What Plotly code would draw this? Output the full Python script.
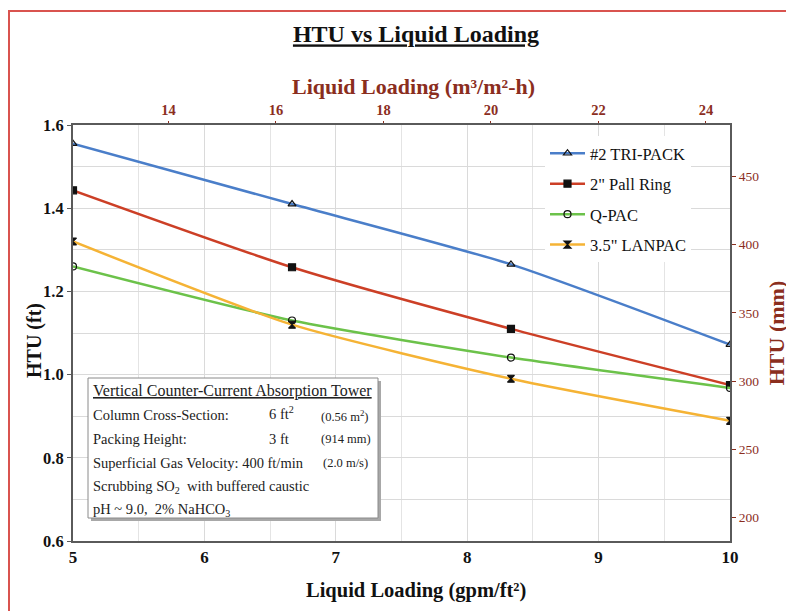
import plotly.graph_objects as go

# ---- data ----
liquid_gpm = [5.0, 6.667, 8.333, 10.0]
series_names = ['#2 TRI-PACK', '2" Pall Ring', 'Q-PAC', '3.5" LANPAC']
tri_pack = [1.555, 1.41, 1.265, 1.072]
pall_ring = [1.443, 1.258, 1.11, 0.975]
q_pac = [1.26, 1.13, 1.041, 0.968]
lanpac = [1.32, 1.12, 0.99, 0.889]
top_ticks = [14, 16, 18, 20, 22, 24]
right_ticks = [200, 250, 300, 350, 400, 450]

GPM_TO_M3 = 2.4448   # gpm/ft2 -> m3/m2-h
FT_TO_MM = 304.8

colors = ['#4A7EC9', '#CC3F26', '#6CC24A', '#F5B335']
symbols = ['triangle-up-open', 'square', 'circle-open', 'hourglass']
values = [tri_pack, pall_ring, q_pac, lanpac]

SERIF = 'Liberation Serif'
DARKRED = '#8B2E1E'

OFF = 8  # page offset of the plot div
W, H = 794, 611
PL, PR, PT, PB = 73, 730, 125, 541   # plot area in page coords
L, R, T, B = PL - OFF, W - (PR - OFF), PT - OFF, H - (PB - OFF)
PW, PH = W - L - R, H - T - B


def px(x):
    return (x - OFF - L) / PW


def py(y):
    return (H - B - (y - OFF)) / PH


fig = go.Figure()
for i, (name, vals) in enumerate(zip(series_names, values)):
    fig.add_trace(go.Scatter(
        x=liquid_gpm, y=vals, name=name, mode='lines+markers',
        line=dict(color=colors[i], width=2.5, shape='spline', smoothing=0.6),
        marker=dict(symbol=symbols[i], size=7, color='#111111',
                    line=dict(color='#111111', width=1.2)),
        legendgroup='g%d' % i,
    ))

# invisible trace to anchor the secondary axes
fig.add_trace(go.Scatter(
    x=[v * GPM_TO_M3 for v in liquid_gpm], y=[v * FT_TO_MM for v in tri_pack],
    xaxis='x2', yaxis='y2', mode='lines', line=dict(color='rgba(0,0,0,0)'),
    showlegend=False, hoverinfo='skip'))

axis_line = dict(showline=True, linecolor='#5A5A5A', linewidth=2)

fig.update_layout(
    width=W, height=H,
    margin=dict(l=L, r=R, t=T, b=B),
    paper_bgcolor='white', plot_bgcolor='white',
    font=dict(family=SERIF, color='#111111'),
    title=dict(text='<b><u>HTU vs Liquid Loading</u></b>', x=(416 - OFF) / W, xanchor='center',
               y=1 - (34 - OFF) / H, yanchor='middle', font=dict(size=24, family=SERIF, color='#111111')),
    xaxis=dict(range=[5, 10], dtick=1, tick0=5, showgrid=True, gridcolor='#DADADA', gridwidth=1,
               minor=dict(dtick=0.5, showgrid=True, gridcolor='#E4E4E4'),
               ticks='', tickfont=dict(size=17, family=SERIF, color='#111111', weight='bold'),
               zeroline=False, mirror=False, **axis_line),
    yaxis=dict(range=[0.6, 1.6], dtick=0.2, tick0=0.6, showgrid=True, gridcolor='#DADADA',
               minor=dict(dtick=0.1, showgrid=True, gridcolor='#DADADA'),
               ticks='outside', ticklen=4, tickcolor='#5A5A5A',
               tickformat='.1f', tickfont=dict(size=16.5, family=SERIF, color='#111111', weight='bold'),
               zeroline=False, **axis_line),
    xaxis2=dict(overlaying='x', side='top', anchor='y',
                range=[5 * GPM_TO_M3, 10 * GPM_TO_M3], tickvals=top_ticks,
                ticks='outside', ticklen=2, tickcolor=DARKRED, showgrid=False,
                tickfont=dict(size=14.5, family=SERIF, color=DARKRED, weight='bold'),
                zeroline=False, **axis_line),
    yaxis2=dict(overlaying='y', side='right', anchor='x',
                range=[0.6 * FT_TO_MM, 1.6 * FT_TO_MM], tickvals=right_ticks,
                ticks='outside', ticklen=4, tickcolor=DARKRED, showgrid=False,
                tickfont=dict(size=13.5, family=SERIF, color=DARKRED),
                title=dict(text='<b>HTU (mm)</b>', font=dict(size=22, family=SERIF, color=DARKRED), standoff=10),
                zeroline=False, **axis_line),
    legend=dict(x=px(545), y=py(136), xanchor='left', yanchor='top',
                bgcolor='white', borderwidth=0, tracegroupgap=6,
                font=dict(size=16.5, family=SERIF, color='#111111'), itemwidth=35),
    showlegend=True,
)

# info box with shadow
shapes = [
    dict(type='rect', xref='paper', yref='paper', x0=px(91), x1=px(381), y0=py(521), y1=py(381),
         fillcolor='#A8A8A8', line=dict(width=0), layer='above'),
    dict(type='rect', xref='paper', yref='paper', x0=px(88), x1=px(378), y0=py(518), y1=py(378),
         fillcolor='white', line=dict(color='#8A8A8A', width=1), layer='above'),
    # outer red frame
    dict(type='rect', xref='paper', yref='paper', x0=px(9), x1=px(900), y0=py(700), y1=py(11),
         fillcolor='rgba(0,0,0,0)', line=dict(color='#D9534F', width=2), layer='above'),
]
fig.update_layout(shapes=shapes)

anns = [
    # axis titles
    dict(xref='paper', yref='paper', x=px(413), y=py(86), xanchor='center', yanchor='middle',
         text='<b>Liquid Loading (m³/m²-h)</b>', showarrow=False,
         font=dict(size=22, family=SERIF, color=DARKRED)),
    dict(xref='paper', yref='paper', x=px(416), y=py(590), xanchor='center', yanchor='middle',
         text='<b>Liquid Loading (gpm/ft²)</b>', showarrow=False,
         font=dict(size=20.5, family=SERIF, color='#111111')),
    dict(xref='paper', yref='paper', x=px(34), y=py(341), xanchor='center', yanchor='middle',
         text='<b>HTU (ft)</b>', showarrow=False, textangle=-90,
         font=dict(size=20, family=SERIF, color='#111111')),
]

box_lines = [
    (91, 391, '<u>Vertical Counter-Current Absorption Tower</u>', 16),
    (91, 415, 'Column Cross-Section:', 14.5),
    (91, 439, 'Packing Height:', 14.5),
    (91, 463, 'Superficial Gas Velocity: 400 ft/min', 14.5),
    (91, 487, 'Scrubbing SO<sub>2</sub>  with buffered caustic', 14.5),
    (91, 510, 'pH ~ 9.0,  2% NaHCO<sub>3</sub>', 14.5),
    (267, 413, '6 ft<sup>2</sup>', 14.5),
    (267, 439, '3 ft', 14.5),
    (319, 416, '(0.56 m<sup>2</sup>)', 12.5),
    (319, 439, '(914 mm)', 12.5),
    (321, 463, '(2.0 m/s)', 12.5),
]
for x, y, txt, sz in box_lines:
    anns.append(dict(xref='paper', yref='paper', x=px(x), y=py(y), xanchor='left', yanchor='middle',
                     text=txt, showarrow=False, font=dict(size=sz, family=SERIF, color='#222222')))
fig.update_layout(annotations=anns)

fig.write_html('out.html')
